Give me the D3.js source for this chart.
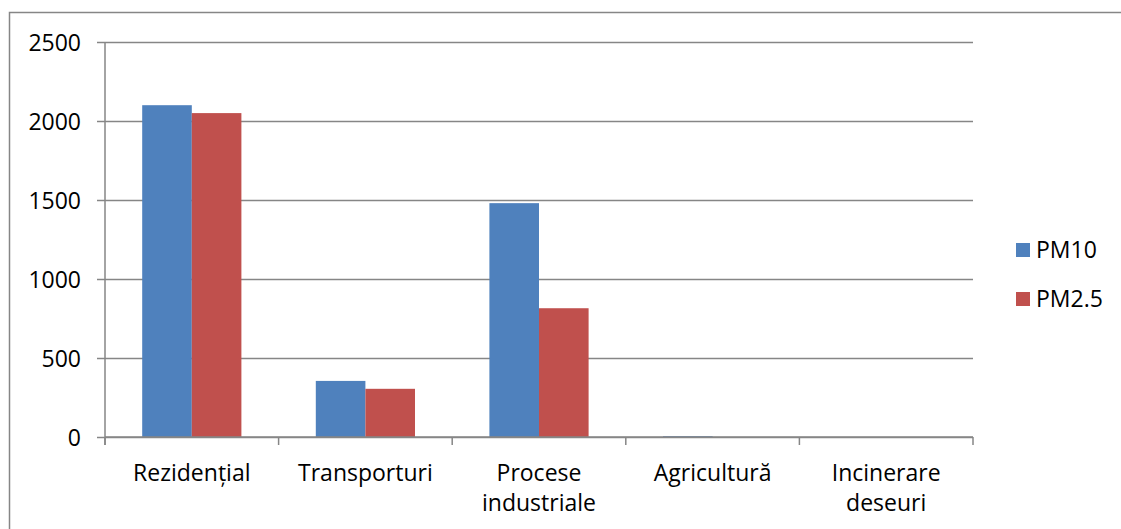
<!DOCTYPE html>
<html>
<head>
<meta charset="utf-8">
<script src="https://cdn.jsdelivr.net/npm/d3@7"></script>
<style>
  html, body { margin: 0; padding: 0; background: #fff; }
  svg { display: block; font-family: "Open Sans", Lato, "Liberation Sans", sans-serif; }
</style>
</head>
<body>
<svg id="chart" width="1121" height="529"></svg>
<script>
// Emission sources and their particulate totals
const categories = ["Rezidențial", "Transporturi", "Procese industriale", "Agricultură", "Incinerare deseuri"];
const seriesNames = ["PM10", "PM2.5"];
const pm10 = [2100, 355, 1480, 5, 0];
const pm25 = [2050, 305, 815, 0, 0];
const yTicks = [0, 500, 1000, 1500, 2000, 2500];
const colors = ["#4F81BD", "#C0504D"];

const svg = d3.select("#chart");
const margin = { left: 105, top: 42, right: 973, bottom: 437 };
const gridColor = "#868686";
const fontSize = 23;

// Outer chart frame
svg.append("rect")
  .attr("x", 9.5).attr("y", 12.5)
  .attr("width", 1300).attr("height", 700)
  .attr("fill", "none").attr("stroke", gridColor).attr("stroke-width", 1.5);

const x = d3.scaleBand().domain(categories).range([margin.left, margin.right]);
const xInner = d3.scaleBand().domain(seriesNames)
  .range([0, x.bandwidth()]).paddingOuter(0.75).paddingInner(0);
const y = d3.scaleLinear().domain([0, 2500]).range([margin.bottom, margin.top]);

// Horizontal gridlines with short ticks left of the axis
const yAxis = d3.axisLeft(y).tickValues(yTicks).tickFormat(d3.format("d"))
  .tickSize(-(margin.right - margin.left)).tickSizeOuter(0).tickPadding(24);
const gy = svg.append("g").attr("transform", `translate(${margin.left},0)`).call(yAxis);
gy.select(".domain").remove();
gy.selectAll(".tick line").attr("stroke", gridColor).attr("stroke-width", 1.5)
  .attr("x1", -8);
gy.selectAll(".tick text").attr("font-size", fontSize).attr("fill", "#000")
  .attr("font-family", "'Open Sans', Lato, sans-serif").attr("dy", "0.35em");

// Vertical axis line
svg.append("line")
  .attr("x1", margin.left).attr("x2", margin.left)
  .attr("y1", margin.top).attr("y2", margin.bottom + 8)
  .attr("stroke", gridColor).attr("stroke-width", 1.5);

// Bars
const rows = categories.map((c, i) => ({ cat: c, values: [pm10[i], pm25[i]] }));
const groups = svg.append("g").selectAll("g").data(rows).join("g")
  .attr("transform", d => `translate(${x(d.cat)},0)`);
groups.selectAll("rect")
  .data(d => d.values.map((v, j) => ({ name: seriesNames[j], value: v, color: colors[j] })))
  .join("rect")
  .attr("x", d => xInner(d.name))
  .attr("width", xInner.bandwidth())
  .attr("y", d => y(d.value))
  .attr("height", d => y(0) - y(d.value))
  .attr("fill", d => d.color);

// Category axis with ticks between groups
const boundaries = categories.map(c => x(c)).concat([margin.right]);
svg.append("line")
  .attr("x1", margin.left).attr("x2", margin.right)
  .attr("y1", margin.bottom).attr("y2", margin.bottom)
  .attr("stroke", gridColor).attr("stroke-width", 1.5);
svg.append("g").selectAll("line").data(boundaries).join("line")
  .attr("x1", d => d).attr("x2", d => d)
  .attr("y1", margin.bottom).attr("y2", margin.bottom + 8)
  .attr("stroke", gridColor).attr("stroke-width", 1.5);

// Category labels, wrapped onto two lines where needed
const labelLines = { "Procese industriale": ["Procese", "industriale"], "Incinerare deseuri": ["Incinerare", "deseuri"] };
const labels = svg.append("g").selectAll("text").data(categories).join("text")
  .attr("x", d => x(d) + x.bandwidth() / 2)
  .attr("y", 481)
  .attr("text-anchor", "middle")
  .attr("font-size", fontSize)
  .attr("fill", "#000");
labels.each(function(d) {
  const lines = labelLines[d] || [d];
  d3.select(this).selectAll("tspan").data(lines).join("tspan")
    .attr("x", x(d) + x.bandwidth() / 2)
    .attr("dy", (l, i) => i === 0 ? 0 : 30)
    .text(l => l);
});

// Legend
const legend = svg.append("g").selectAll("g").data(seriesNames).join("g")
  .attr("transform", (d, i) => `translate(1016,${243 + i * 49})`);
legend.append("rect").attr("width", 14).attr("height", 14)
  .attr("fill", (d, i) => colors[i]);
legend.append("text").attr("x", 20).attr("y", 15)
  .attr("font-size", fontSize).attr("fill", "#000").text(d => d);
</script>
</body>
</html>
